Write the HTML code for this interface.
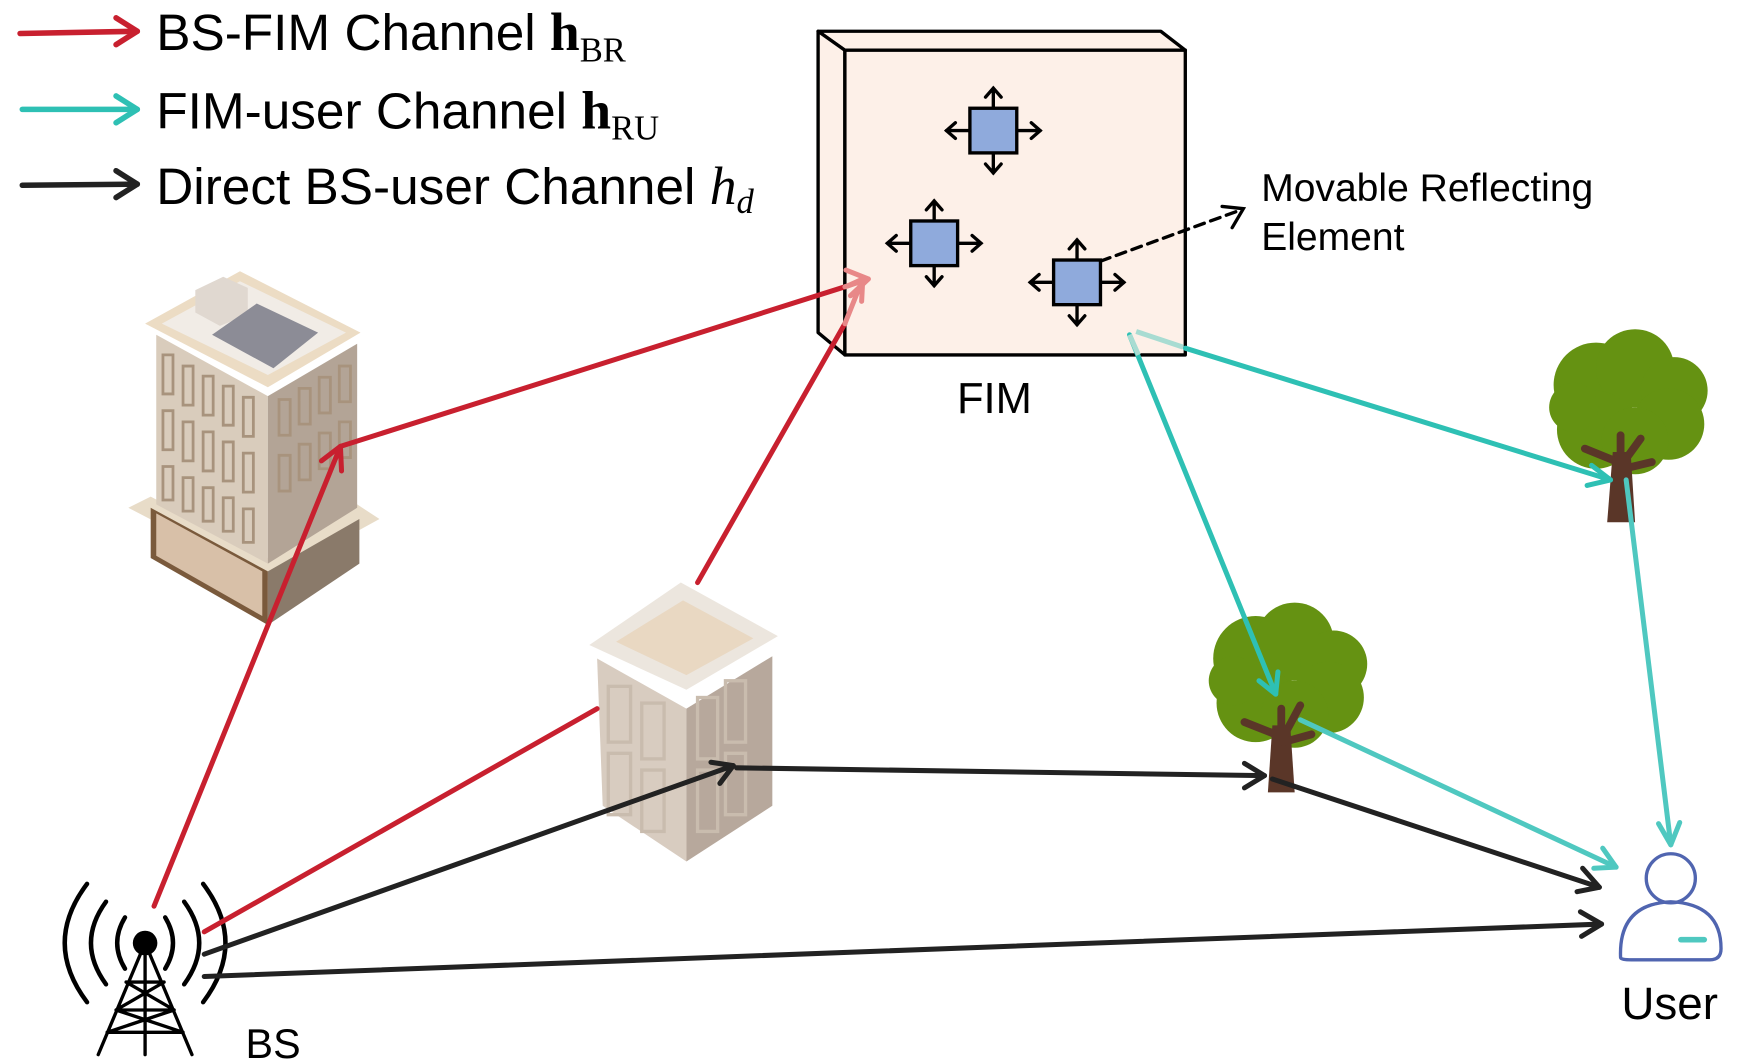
<!DOCTYPE html>
<html><head><meta charset="utf-8"><style>
html,body{margin:0;padding:0;background:#fff;}
svg{display:block;}
text{font-family:"Liberation Sans",sans-serif;}
</style></head><body>
<svg width="1740" height="1063" viewBox="0 0 1559 952.5" preserveAspectRatio="none" xmlns="http://www.w3.org/2000/svg">
<rect width="1559" height="952.5" fill="#fff"/>

<!-- Legend -->
<g stroke-width="5" fill="none" stroke-linecap="round" stroke-linejoin="round">
<path d="M18,30 L123,28" stroke="#c8202f"/><path d="M104,16 L123,28 L104,40" stroke="#c8202f"/>
<path d="M20,98 L123,98" stroke="#2ec0b4"/><path d="M104,86 L123,98 L104,110" stroke="#2ec0b4"/>
<path d="M20,166 L123,165" stroke="#222"/><path d="M104,153 L123,165 L104,177" stroke="#222"/>
</g>
<text x="140" y="45" font-size="46">BS-FIM Channel <tspan font-family="Liberation Serif" font-weight="bold" font-size="48">h</tspan><tspan font-family="Liberation Serif" font-size="31" dy="10">BR</tspan></text>
<text x="140" y="115" font-size="46">FIM-user Channel <tspan font-family="Liberation Serif" font-weight="bold" font-size="48">h</tspan><tspan font-family="Liberation Serif" font-size="31" dy="10">RU</tspan></text>
<text x="140" y="183" font-size="46">Direct BS-user Channel <tspan font-family="Liberation Serif" font-style="italic" font-size="48">h</tspan><tspan font-family="Liberation Serif" font-style="italic" font-size="31" dy="8">d</tspan></text>

<!-- FIM -->
<g stroke="#000" stroke-width="3" fill="#fdf0e8" stroke-linejoin="round">
<polygon points="733,28 1040,28 1062,45 757,45"/>
<polygon points="733,28 757,45 757,318 733,298"/>
<rect x="757" y="45" width="305" height="273"/>
</g>
<text x="891" y="370" font-size="39" text-anchor="middle">FIM</text>

<!-- movable elements -->
<g stroke="#000" stroke-width="3" fill="none" stroke-linecap="round">
<g transform="translate(890,117)">
<path d="M0,-20 V-38 M-7,-30 L0,-38 L7,-30 M0,20 V38 M-7,30 L0,38 L7,30 M-20,0 H-42 M-34,-7 L-42,0 L-34,7 M20,0 H42 M34,-7 L42,0 L34,7"/>
<rect x="-21" y="-20" width="42" height="40" fill="#8faadc"/></g>
<g transform="translate(837,218)">
<path d="M0,-20 V-38 M-7,-30 L0,-38 L7,-30 M0,20 V38 M-7,30 L0,38 L7,30 M-20,0 H-42 M-34,-7 L-42,0 L-34,7 M20,0 H42 M34,-7 L42,0 L34,7"/>
<rect x="-21" y="-20" width="42" height="40" fill="#8faadc"/></g>
<g transform="translate(965,253)">
<path d="M0,-20 V-38 M-7,-30 L0,-38 L7,-30 M0,20 V38 M-7,30 L0,38 L7,30 M-20,0 H-42 M-34,-7 L-42,0 L-34,7 M20,0 H42 M34,-7 L42,0 L34,7"/>
<rect x="-21" y="-20" width="42" height="40" fill="#8faadc"/></g>
<path d="M986,234 L1112,188" stroke-dasharray="9,6"/>
<path d="M1095,185 L1114,187 L1104,204"/>
</g>
<text x="1130" y="180" font-size="35">Movable Reflecting</text>
<text x="1130" y="224" font-size="35">Element</text>

<!-- Building 1 -->
<g stroke="none">
<polygon points="115,455 240,520 340,465 320,452 240,500 135,445" fill="#e8dcc8"/>
<polygon points="135,455 240,512 240,560 135,500" fill="#7a5a3c"/>
<polygon points="140,460 235,512 235,552 140,498" fill="#d8c0a8"/>
<polygon points="240,512 322,465 322,505 240,560" fill="#8a7a6a"/>
<polygon points="140,300 240,355 240,505 140,452" fill="#d9ccbc"/>
<polygon points="240,355 320,308 320,455 240,505" fill="#b3a496"/>
<polygon points="130,290 215,243 323,298 240,347" fill="#ecdcc4"/>
<polygon points="145,290 215,252 310,298 240,336" fill="#f1ece6"/>
<polygon points="175,260 200,248 222,258 222,282 197,292 175,280" fill="#e0d8d0"/>
<polygon points="190,300 230,272 285,298 245,330" fill="#8c8c96"/>
</g>
<g fill="none" stroke="#a8937d" stroke-width="2.5">
<path d="M146,318 h9 v35 h-9z M164,328 h9 v35 h-9z M182,337 h9 v35 h-9z M200,346 h9 v35 h-9z M218,356 h9 v35 h-9z"/>
<path d="M146,368 h9 v35 h-9z M164,378 h9 v35 h-9z M182,387 h9 v35 h-9z M200,396 h9 v35 h-9z M218,406 h9 v35 h-9z"/>
<path d="M146,418 h9 v30 h-9z M164,428 h9 v30 h-9z M182,437 h9 v30 h-9z M200,446 h9 v30 h-9z M218,456 h9 v30 h-9z"/>
<path d="M250,358 h10 v32 h-10z M268,348 h10 v32 h-10z M286,338 h10 v32 h-10z M304,328 h10 v32 h-10z"/>
<path d="M250,408 h10 v32 h-10z M268,398 h10 v32 h-10z M286,388 h10 v32 h-10z M304,378 h10 v32 h-10z"/>
</g>

<!-- Building 2 -->
<g stroke="none">
<polygon points="535,590 615,635 615,772 540,722" fill="#d8ccc0"/>
<polygon points="615,635 692,588 692,722 615,772" fill="#b7a89c"/>
<polygon points="528,578 610,522 697,570 615,618" fill="#ece6de"/>
<polygon points="552,575 612,538 675,572 615,605" fill="#e9d8c2"/>
</g>
<g fill="none" stroke="#c9bcae" stroke-width="3">
<rect x="545" y="615" width="20" height="50"/><rect x="575" y="630" width="20" height="50"/>
<rect x="545" y="675" width="20" height="55"/><rect x="575" y="690" width="20" height="55"/>
<rect x="625" y="625" width="18" height="55"/><rect x="650" y="610" width="18" height="55"/>
<rect x="625" y="690" width="18" height="55"/><rect x="650" y="675" width="18" height="55"/>
</g>

<!-- Trees -->
<g>
<g fill="#659212">
<circle cx="1125" cy="590" r="38"/><circle cx="1160" cy="575" r="35"/><circle cx="1195" cy="595" r="30"/><circle cx="1190" cy="625" r="32"/><circle cx="1125" cy="630" r="35"/><circle cx="1160" cy="640" r="30"/><circle cx="1105" cy="610" r="22"/>
<circle cx="1430" cy="345" r="38"/><circle cx="1465" cy="330" r="35"/><circle cx="1500" cy="350" r="30"/><circle cx="1495" cy="380" r="32"/><circle cx="1430" cy="385" r="35"/><circle cx="1465" cy="395" r="30"/><circle cx="1410" cy="365" r="22"/>
</g>
<g fill="#5a3628" stroke="#5a3628" stroke-linecap="round">
<polygon points="1140,650 1156,650 1160,710 1136,710" stroke="none"/>
<path d="M1148,660 L1115,647 M1148,655 V635 M1150,660 L1165,632 M1150,665 L1175,658" stroke-width="7" fill="none"/>
<polygon points="1445,405 1461,405 1465,468 1440,468" stroke="none"/>
<path d="M1452,415 L1420,402 M1452,410 V390 M1454,415 L1470,393 M1455,420 L1480,414" stroke-width="7" fill="none"/>
</g>
</g>

<!-- User -->
<g fill="none" stroke="#5065b0" stroke-width="3">
<circle cx="1497" cy="787" r="22"/>
<path d="M1452,858 Q1450,810 1497,808 Q1542,810 1542,850 Q1542,860 1532,860 L1462,860 Q1452,860 1452,858 Z"/>
</g>
<path d="M1506,842 H1527" stroke="#4fc8c0" stroke-width="5" stroke-linecap="round"/>
<text x="1496" y="913" font-size="41" text-anchor="middle">User</text>

<!-- BS -->
<g fill="none" stroke="#000" stroke-width="4" stroke-linecap="round">
<path d="M78,792 Q38,845 78,898"/><path d="M182,792 Q222,845 182,898"/>
<path d="M95,808 Q68,845 95,882"/><path d="M165,808 Q192,845 165,882"/>
<path d="M112,822 Q98,845 112,868"/><path d="M148,822 Q162,845 148,868"/>
<path d="M130,845 L88,945 M130,845 L172,945 M130,845 V945 M113,880 H147 M104,905 H156 M96,925 H164 M113,880 L156,905 M147,880 L104,905 M104,905 L164,925 M156,905 L96,925" stroke-width="3"/>
</g>
<circle cx="130" cy="845" r="11" fill="#000"/>
<text x="220" y="948" font-size="37">BS</text>

<!-- Red lines -->
<g stroke="#c8202f" stroke-width="4.5" fill="none" stroke-linecap="round" stroke-linejoin="round">
<path d="M138,812 L305,400"/><path d="M288,413 L305,400 L306,422"/>
<path d="M305,400 L757,257"/>
<path d="M183,835 L535,635"/>
<path d="M625,522 L757,290"/>
</g>
<g stroke="#e88888" stroke-width="4.5" fill="none" stroke-linecap="round" stroke-linejoin="round">
<path d="M757,257 L778,250"/><path d="M758,242 L778,250 L762,265"/>
<path d="M757,290 L773,250"/><path d="M760,256 L773,250 L772,270"/>
</g>

<!-- Black lines -->
<g stroke="#222" stroke-width="4.5" fill="none" stroke-linecap="round" stroke-linejoin="round">
<path d="M183,855 L657,686"/><path d="M637,683 L657,686 L645,702"/>
<path d="M660,688 L1133,695"/><path d="M1115,684 L1133,695 L1115,706"/>
<path d="M1140,698 L1433,795"/><path d="M1418,778 L1433,795 L1413,799"/>
<path d="M183,875 L1435,828"/><path d="M1416,817 L1435,828 L1417,839"/>
</g>

<!-- Teal lines -->
<g stroke="#2ec0b4" stroke-width="4.5" fill="none" stroke-linecap="round" stroke-linejoin="round">
<path d="M1062,312 L1443,430"/><path d="M1422,435 L1443,430 L1426,417"/>
<path d="M1012,300 L1143,622"/><path d="M1128,610 L1143,622 L1145,602"/>
</g>
<g stroke="#4fc8c0" stroke-width="4.5" fill="none" stroke-linecap="round" stroke-linejoin="round">
<path d="M1165,645 L1448,777"/><path d="M1428,778 L1448,777 L1436,760"/>
<path d="M1457,430 L1497,757"/><path d="M1486,738 L1497,757 L1505,737"/>
</g>
<path d="M1012,300 L1020,318 M1018,297 L1060,311" stroke="#a8dcd2" stroke-width="4.5"/>
</svg>
</body></html>
